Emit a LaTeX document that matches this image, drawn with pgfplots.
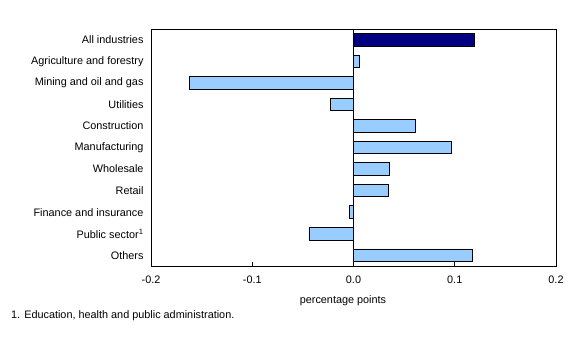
\documentclass[border=0pt]{standalone}
\usepackage{pgfplots}
\pgfplotsset{compat=1.18}
\usepackage{fontspec}
\setmainfont{Liberation Sans}
\definecolor{navybar}{RGB}{0,0,128}
\definecolor{lightbar}{RGB}{153,204,255}
\begin{document}
\begin{tikzpicture}
\path (0,0) rectangle (588bp,346bp);
\begin{axis}[
  name=ax, at={(151bp,80bp)}, anchor=south west,
  scale only axis, width=405bp, height=237bp,
  xbar, bar width=12.5bp, bar shift=0pt,
  xmin=-0.2, xmax=0.2, ymin=-0.5, ymax=10.5, y dir=reverse,
  ytick={0,...,10},
  yticklabels={All industries, Agriculture and forestry, Mining and oil and gas, Utilities, Construction, Manufacturing, Wholesale, Retail, Finance and insurance, Public sector\textsuperscript{1}, Others},
  ytick pos=left, major y tick style={draw=none},
  xtick={-0.2,-0.1,0,0.1,0.2}, xticklabels={-0.2,-0.1,0.0,0.1,0.2},
  xtick pos=bottom, tick align=inside, major tick length=4bp,
  major x tick style={black, line width=0.6bp},
  axis line style={black, line width=0.8bp},
  ticklabel style={font=\fontsize{10.9}{12}\selectfont},
  xticklabel style={yshift=-6bp},
  yticklabel style={xshift=-4bp},
  /pgf/number format/assume math mode=true,
  clip=false,
]
\addplot[draw=black, line width=0.8bp, fill=navybar] coordinates {(0.119,0)};
\addplot[draw=black, line width=0.8bp, fill=lightbar] coordinates {
 (0.006,1) (-0.162,2) (-0.023,3) (0.061,4) (0.097,5) (0.035,6) (0.034,7) (-0.004,8) (-0.044,9) (0.117,10)};
\draw[black, line width=0.8bp] (axis cs:0,-0.5) -- (axis cs:0,10.5);
\end{axis}
\node[anchor=base, font=\fontsize{10.9}{12}\selectfont, inner sep=0pt] at (343bp,42.7bp) {percentage points};
\node[anchor=base west, font=\fontsize{10.9}{12}\selectfont, inner sep=0pt] at (11bp,27.7bp) {1. Education, health and public administration.};
\end{tikzpicture}
\end{document}
